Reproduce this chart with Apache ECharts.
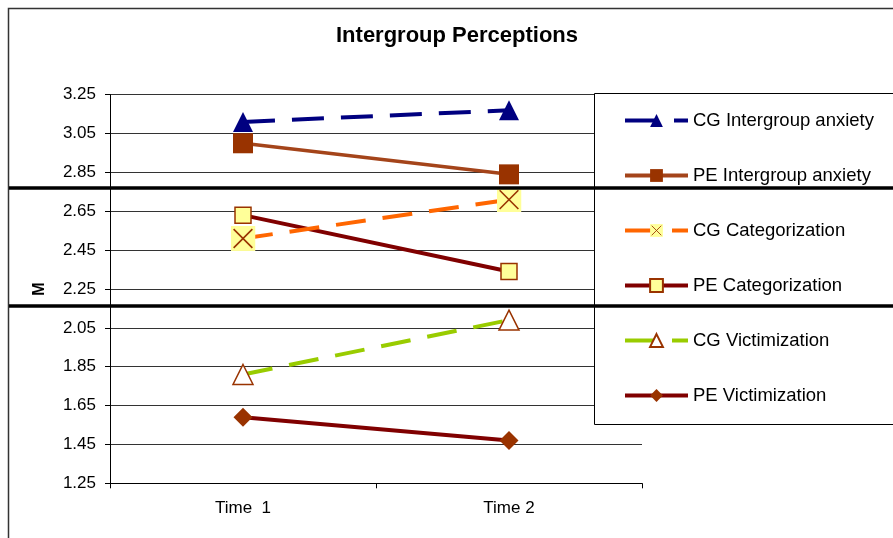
<!DOCTYPE html>
<html>
<head>
<meta charset="utf-8">
<script src="https://cdn.jsdelivr.net/npm/echarts@6/dist/echarts.min.js"></script>
<style>
html,body{margin:0;padding:0;background:#fff;}
#chart{width:893px;height:538px;}
</style>
</head>
<body>
<div id="chart"></div>
<script>
const categories = ['Time  1', 'Time 2'];
const seriesNames = ['CG Intergroup anxiety', 'PE Intergroup anxiety', 'CG Categorization', 'PE Categorization', 'CG Victimization', 'PE Victimization'];
const cgAnxiety = [3.11, 3.17];
const peAnxiety = [3.00, 2.84];
const cgCategorization = [2.51, 2.71];
const peCategorization = [2.63, 2.34];
const cgVictimization = [1.81, 2.09];
const peVictimization = [1.59, 1.47];
const yTicks = [1.25, 1.45, 1.65, 1.85, 2.05, 2.25, 2.45, 2.65, 2.85, 3.05, 3.25];

const font = 'Liberation Sans, Arial, sans-serif';
const xSvg = '<svg xmlns="http://www.w3.org/2000/svg" width="24" height="24" viewBox="0 0 24 24">' +
  '<rect x="0" y="0" width="24" height="24" fill="#FFFF99"/>' +
  '<line x1="3" y1="3" x2="21" y2="21" stroke="#993300" stroke-width="1.6"/>' +
  '<line x1="21" y1="3" x2="3" y2="21" stroke="#993300" stroke-width="1.6"/></svg>';
const xSymbol = 'image://data:image/svg+xml;charset=utf-8,' + encodeURIComponent(xSvg);

const chart = echarts.init(document.getElementById('chart'), null, {renderer: 'canvas'});
chart.setOption({
  animation: false,
  backgroundColor: '#fff',
  title: {
    text: 'Intergroup Perceptions',
    left: 336, top: 25,
    padding: 0,
    textStyle: {fontFamily: font, fontSize: 22, fontWeight: 'bold', color: '#000'}
  },
  grid: {left: 110, right: 251, top: 94.7, bottom: 54.7, containLabel: false},
  legend: {
    orient: 'vertical',
    left: 623, top: 111,
    itemWidth: 63, itemHeight: 16, itemGap: 36,
    padding: 0,
    lineStyle: {width: 4},
    textStyle: {fontFamily: font, fontSize: 18.5, color: '#000', lineHeight: 16},
    data: seriesNames
  },
  xAxis: {
    type: 'category',
    data: categories,
    boundaryGap: true,
    axisLine: {lineStyle: {color: '#000', width: 1}},
    axisTick: {show: true, length: 5, lineStyle: {color: '#000'}},
    axisLabel: {fontFamily: font, fontSize: 17, color: '#000', margin: 17},
    splitLine: {show: false}
  },
  yAxis: {
    type: 'value',
    min: 1.25, max: 3.25,
    name: 'M',
    nameLocation: 'middle',
    nameGap: 62,
    nameTextStyle: {fontFamily: font, fontSize: 16, fontWeight: 'bold', color: '#000'},
    axisLine: {show: true, lineStyle: {color: '#000', width: 1}},
    axisTick: {show: true, length: 5, lineStyle: {color: '#000'}, customValues: yTicks},
    axisLabel: {fontFamily: font, fontSize: 17, color: '#000', margin: 14, customValues: yTicks,
      formatter: v => v.toFixed(2)},
    splitLine: {show: true, lineStyle: {color: '#333', width: 1}}
  },
  series: [
    {name: seriesNames[0], type: 'line', data: cgAnxiety, z: 3,
      lineStyle: {color: '#000080', width: 4, type: [32, 17]},
      symbol: 'triangle', symbolSize: 20,
      itemStyle: {color: '#000080', borderColor: '#000080', borderWidth: 0}},
    {name: seriesNames[1], type: 'line', data: peAnxiety, z: 2,
      lineStyle: {color: '#A4441A', width: 3.5},
      symbol: 'rect', symbolSize: 20,
      itemStyle: {color: '#993300', borderWidth: 0}},
    {name: seriesNames[2], type: 'line', data: cgCategorization, z: 3,
      lineStyle: {color: '#FF6600', width: 4, type: [30, 17]},
      symbol: xSymbol, symbolSize: 25,
      itemStyle: {color: '#FF6600'}},
    {name: seriesNames[3], type: 'line', data: peCategorization, z: 2,
      lineStyle: {color: '#800000', width: 4},
      symbol: 'rect', symbolSize: 16,
      itemStyle: {color: '#FFFF99', borderColor: '#993300', borderWidth: 1.5}},
    {name: seriesNames[4], type: 'line', data: cgVictimization, z: 3,
      lineStyle: {color: '#99CC00', width: 4, type: [30, 17]},
      symbol: 'triangle', symbolSize: 20,
      itemStyle: {color: '#FFFFFF', borderColor: '#993300', borderWidth: 1.5}},
    {name: seriesNames[5], type: 'line', data: peVictimization, z: 2,
      lineStyle: {color: '#800000', width: 4},
      symbol: 'diamond', symbolSize: 19,
      itemStyle: {color: '#993300', borderWidth: 0}}
  ],
  graphic: [
    {type: 'rect', z: -10, silent: true,
      shape: {x: 8.5, y: 8.5, width: 1000, height: 1000},
      style: {fill: 'none', stroke: '#333', lineWidth: 1.5}},
    {type: 'rect', z: 3, silent: true,
      shape: {x: 594.5, y: 93.5, width: 400, height: 331},
      style: {fill: '#fff', stroke: '#000', lineWidth: 1}},
    {type: 'line', z: 10, silent: true,
      shape: {x1: 9, y1: 188, x2: 893, y2: 188},
      style: {stroke: '#000', lineWidth: 3.5}},
    {type: 'line', z: 10, silent: true,
      shape: {x1: 9, y1: 306, x2: 893, y2: 306},
      style: {stroke: '#000', lineWidth: 3.5}}
  ]
});
</script>
</body>
</html>
